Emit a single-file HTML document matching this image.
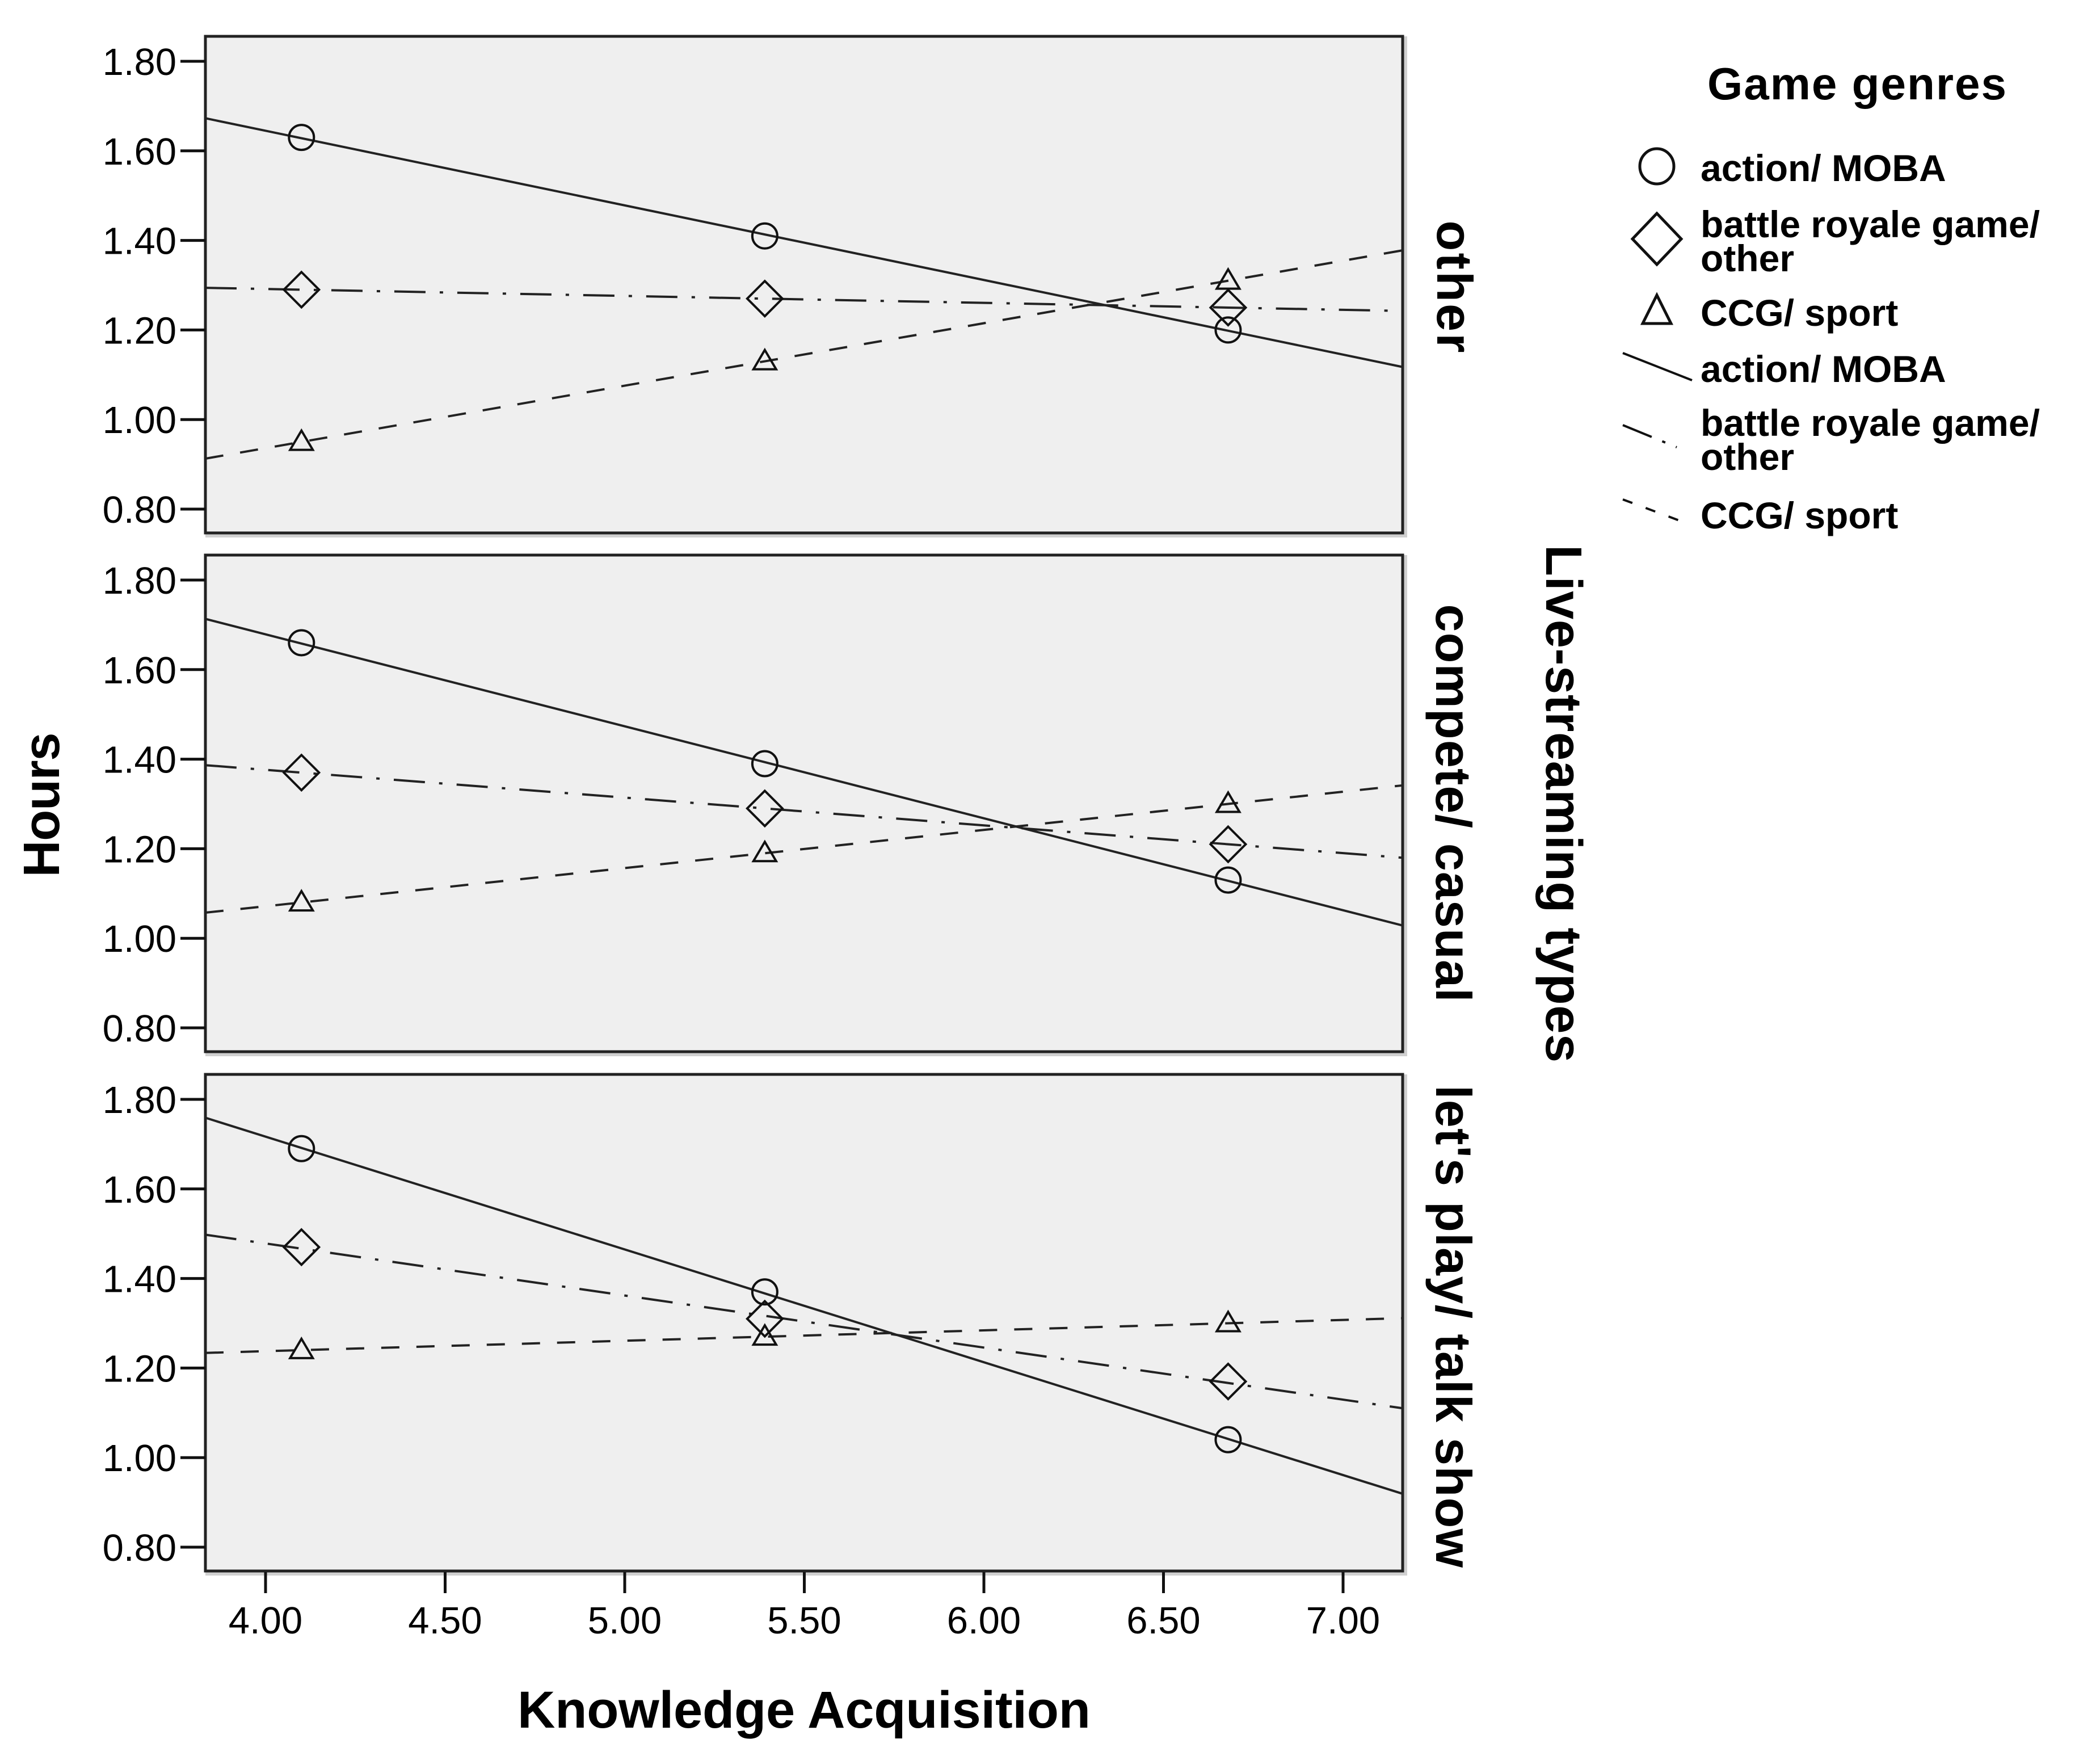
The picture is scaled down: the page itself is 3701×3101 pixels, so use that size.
<!DOCTYPE html>
<html><head><meta charset="utf-8"><style>
html,body{margin:0;padding:0;background:#fff;}
svg{display:block;}
text{font-family:"Liberation Sans",sans-serif;}
</style></head><body>
<svg id="chart" width="3701" height="3101" viewBox="0 0 3701 3101" xmlns="http://www.w3.org/2000/svg"></svg>
<script>
const panels = ["other","compete/ casual","let's play/ talk show"];
const xPoints = [4.10, 5.39, 6.68];
const actionVals = [[1.63,1.41,1.20],[1.66,1.39,1.13],[1.69,1.37,1.04]];
const battleVals = [[1.29,1.27,1.25],[1.37,1.29,1.21],[1.47,1.31,1.17]];
const ccgVals = [[0.95,1.13,1.31],[1.08,1.19,1.30],[1.24,1.27,1.30]];
const yTicks = [0.80,1.00,1.20,1.40,1.60,1.80];
const xTicks = [4.00,4.50,5.00,5.50,6.00,6.50,7.00];

const NS="http://www.w3.org/2000/svg";
const svg=document.getElementById('chart');
function mk(tag,attrs,parent){const e=document.createElementNS(NS,tag);for(const k in attrs)e.setAttribute(k,attrs[k]);(parent||svg).appendChild(e);return e;}
const L=362,R=2472,xMin=3.833,xMax=7.166;
function X(v){return 468+(v-4)*633;}
const panelTops=[64,978,1893];
const PH=875;
function Y(p,v){return panelTops[p]+44+(1.80-v)*789;}
function fit(xs,ys){const n=xs.length;const mx=xs.reduce((a,b)=>a+b)/n,my=ys.reduce((a,b)=>a+b)/n;let sxy=0,sxx=0;for(let i=0;i<n;i++){sxy+=(xs[i]-mx)*(ys[i]-my);sxx+=(xs[i]-mx)**2;}const b=sxy/sxx;return v=>my+b*(v-mx);}

panels.forEach((name,p)=>{
  const top=panelTops[p],bot=top+PH;
  const g=mk('g',{});
  
  
  const shadow=mk('rect',{x:L,y:top,width:R-L+8,height:PH+8,fill:'#d0d0d0'},g);
  
  
  const bg=mk('rect',{x:L,y:top,width:R-L,height:PH,fill:'#efefef',stroke:'#222','stroke-width':5},g);
  
  
  yTicks.forEach(t=>{
    const y=Y(p,t);
    const tl=mk('line',{x1:318,x2:L,y1:y,y2:y,stroke:'#111','stroke-width':5},g);
    
    
    const tx=mk('text',{x:311,y:y+24,'font-size':67,'text-anchor':'end',fill:'#000'},g);
    tx.textContent=t.toFixed(2);
    
    
  });
  const series=[
    {vals:actionVals[p],dash:null,marker:'circle',nm:'action-moba'},
    {vals:battleVals[p],dash:'55 25 6 25',marker:'diamond',nm:'battle-royale'},
    {vals:ccgVals[p],dash:'32 30',marker:'triangle',nm:'ccg-sport'}];
  series.forEach(s=>{
    const f=fit(xPoints,s.vals);
    const ln=mk('line',{x1:L,y1:Y(p,f(xMin)),x2:R,y2:Y(p,f(xMax)),stroke:'#222','stroke-width':4},g);
    if(s.dash)ln.setAttribute('stroke-dasharray',s.dash);
    
    
    xPoints.forEach((xv,i)=>{
      const cx=X(xv),cy=Y(p,s.vals[i]);let m;
      if(s.marker==='circle')m=mk('circle',{cx:cx,cy:cy,r:22,fill:'none',stroke:'#111','stroke-width':4},g);
      else if(s.marker==='diamond')m=mk('polygon',{points:`${cx},${cy-31} ${cx+31},${cy} ${cx},${cy+31} ${cx-31},${cy}`,fill:'none',stroke:'#111','stroke-width':4},g);
      else m=mk('polygon',{points:`${cx},${cy-20} ${cx+20},${cy+14} ${cx-20},${cy+14}`,fill:'none',stroke:'#111','stroke-width':4},g);
      
      
    });
  });
});
// x axis
xTicks.forEach(t=>{
  const x=X(t);
  const tl=mk('line',{x1:x,x2:x,y1:2770,y2:2807,stroke:'#111','stroke-width':5});
  
  
  const tx=mk('text',{x:x,y:2878,'font-size':67,'text-anchor':'middle',fill:'#000'});
  tx.textContent=t.toFixed(2);
  
  
});
const xt=mk('text',{x:1417,y:3044,'font-size':92,'font-weight':'bold','text-anchor':'middle',fill:'#000',textLength:1010});
xt.textContent='Knowledge Acquisition';


const yt=mk('text',{x:0,y:0,'font-size':90,'font-weight':'bold','text-anchor':'middle',fill:'#000',textLength:255,transform:'translate(104,1418) rotate(-90)'});
yt.textContent='Hours';


// strip labels
const stripInfo=[[2533,505,233],[2531,1415,701],[2531,2337,850]];
panels.forEach((name,p)=>{
  const s=stripInfo[p];
  const t=mk('text',{x:0,y:0,'font-size':88,'font-weight':'bold','text-anchor':'middle',fill:'#000',textLength:s[2],transform:`translate(${s[0]},${s[1]}) rotate(90)`});
  t.textContent=name;
  
  
});
const lt=mk('text',{x:0,y:0,'font-size':90,'font-weight':'bold','text-anchor':'middle',fill:'#000',textLength:912,transform:'translate(2725,1416) rotate(90)'});
lt.textContent='Live-streaming types';


// legend
const lg=mk('g',{});


const ttl=mk('text',{x:3009,y:175,'font-size':80,'font-weight':'bold',fill:'#000',textLength:527},lg);
ttl.textContent='Game genres';


function ltxt(lines,y){const t=mk('text',{x:2997,y:y,'font-size':66,'font-weight':'bold',fill:'#000'},lg);
  lines.forEach((s,i)=>{const ts=mk('tspan',{x:2997,dy:i?60:0},t);ts.textContent=s;});
  
  }
let m=mk('ellipse',{cx:2920,cy:293,rx:30,ry:31,fill:'none',stroke:'#111','stroke-width':5},lg);

ltxt(['action/ MOBA'],319);
m=mk('polygon',{points:'2920,376 2963,421 2920,466 2877,421',fill:'none',stroke:'#111','stroke-width':5},lg);

ltxt(['battle royale game/','other'],418);
m=mk('polygon',{points:'2920,520 2945,570 2895,570',fill:'none',stroke:'#111','stroke-width':5},lg);

ltxt(['CCG/ sport'],574);
m=mk('line',{x1:2860,y1:622,x2:2982,y2:670,stroke:'#111','stroke-width':4},lg);

ltxt(['action/ MOBA'],673);
m=mk('line',{x1:2860,y1:749,x2:2955,y2:788,stroke:'#111','stroke-width':4,'stroke-dasharray':'55 20 6 20'},lg);

ltxt(['battle royale game/','other'],768);
m=mk('line',{x1:2860,y1:880,x2:2978,y2:924,stroke:'#111','stroke-width':4,'stroke-dasharray':'18 25'},lg);

ltxt(['CCG/ sport'],931);
</script>
</body></html>
